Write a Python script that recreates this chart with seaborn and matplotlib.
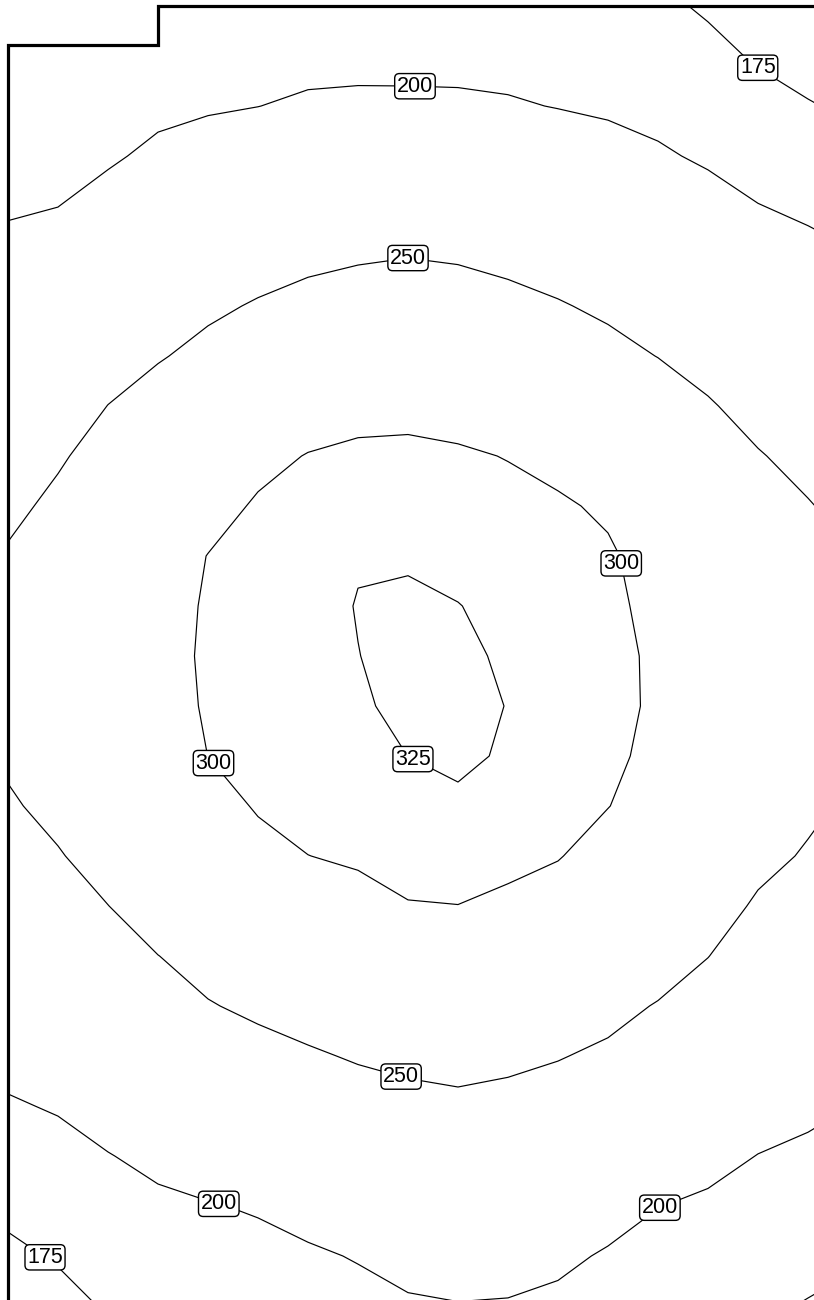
import numpy as np
import matplotlib
matplotlib.use("Agg")
import matplotlib.pyplot as plt
import seaborn as sns

sns.set_theme(style="white")
plt.rcParams['font.family'] = ['Liberation Sans', 'DejaVu Sans']

# survey grid (x positions across, y positions down)
grid_x = [8, 58, 108, 158, 208, 258, 308, 358, 408, 458, 508, 558, 608, 658, 708, 758, 808, 858]
grid_y = [6, 56, 106, 156, 206, 256, 306, 356, 406, 456, 506, 556, 606, 656,
          706, 756, 806, 856, 906, 956, 1006, 1056, 1106, 1156, 1206, 1256, 1306]

# field values, one list per grid column (top -> bottom)
col_x8 = [176, 178.3, 184.8, 191.3, 197.8, 205.3, 213.2, 221.2, 229.2, 237.1, 243, 252.8, 258, 260,
          258.8, 254.3, 246.5, 238.8, 230.7, 222.6, 214.5, 206.3, 198, 189, 179.7, 170.7, 161.7]
col_x58 = [176.5, 178.9, 185.9, 192.9, 199.8, 209.1, 218.5, 227.8, 237.1, 246.5, 256.4, 264.4, 269.2, 271,
           269.7, 265.3, 257.9, 248, 238.7, 229.4, 220.2, 210.9, 201.7, 193.3, 185, 176.8, 168.6]
col_x108 = [178, 181.3, 189.3, 197.3, 207.2, 218, 228.7, 239.5, 250.3, 261.5, 270.3, 276.7, 280.6, 282,
            280.9, 277.1, 270.6, 261.5, 249.7, 239.6, 229.5, 219.3, 209.1, 199.2, 191.8, 184.3, 176.8]
col_x158 = [180, 187.9, 195.4, 204.2, 215.1, 226.1, 237.1, 248, 261.1, 272.3, 281.1, 287.5, 291.5, 293,
            292, 288.6, 282.6, 274.2, 263.2, 249.7, 238.6, 227.5, 216.3, 205.1, 196, 188.5, 181]
col_x208 = [182.9, 190.4, 197.9, 208.8, 221, 233.2, 245.4, 257, 268.4, 279.8, 291.1, 300.5, 302.1, 302.6,
            301.9, 300.1, 290.1, 279.8, 269.4, 259.1, 248.5, 235.9, 223.2, 210.6, 198.8, 191.3, 183.8]
col_x258 = [184.8, 192.3, 199.8, 212.8, 225.9, 239, 252.2, 265.8, 279.5, 293.2, 302.7, 306.8, 309.2, 310,
            309.1, 306.5, 302.1, 292.2, 279.7, 267.2, 254.7, 241.8, 228.5, 215.3, 202, 193.6, 186.1]
col_x308 = [186.3, 193.8, 203, 216.8, 230.4, 244, 258.1, 272.7, 287.2, 301, 307.9, 313, 316.1, 317.2,
            316.2, 313, 307.6, 299.8, 286.6, 273.9, 260.3, 247.1, 234.1, 221, 207.9, 197, 189.5]
col_x358 = [187, 194.5, 203.8, 219.2, 233.3, 247.3, 262.2, 277.2, 292.2, 304.5, 313.8, 323.2, 326, 324.6,
            322, 317, 310, 303, 292.5, 279, 265.6, 252.2, 239.3, 226.6, 214, 201.3, 193.3]
col_x408 = [186.5, 194, 204, 220.3, 234.9, 249.4, 264.1, 278.8, 293.5, 304.9, 313.6, 322.4, 329, 332,
            330.5, 325.1, 316.5, 307.9, 298.9, 284.5, 270.2, 255.8, 242.9, 231, 219.2, 207.4, 197.3]
col_x458 = [186.5, 194, 203.5, 216.3, 230.7, 247.5, 262, 276.5, 291, 302.9, 310.5, 318, 325.6, 330.5,
            333, 330, 320.4, 310.1, 299.7, 285.8, 271.9, 258, 245.1, 233.6, 222, 210.4, 199]
col_x508 = [186, 193.5, 201.9, 215.7, 229.6, 243.5, 257.4, 271.3, 285.3, 299.2, 306.4, 312.6, 318.8, 321.2,
            324.3, 322, 313.8, 305.6, 295.5, 282.1, 268.6, 255.2, 243, 231.6, 220.2, 208.8, 198.3]
col_x558 = [184.3, 191.8, 199.3, 212.1, 225.4, 238.6, 251.9, 265.6, 279.4, 293.1, 303, 307.2, 311.5, 313.4,
            314.9, 313.2, 307.1, 301.2, 289.2, 276.5, 263.8, 251.2, 239.4, 227.7, 216.1, 204.4, 195.4]
col_x608 = [182, 189.5, 197, 207.6, 220.2, 232.8, 245.5, 257.7, 269.8, 281.9, 296.5, 303, 304.2, 305.5,
            306.1, 304.5, 300.5, 290.3, 279.3, 268.3, 257.3, 245.8, 233.5, 221.1, 208.8, 197.8, 190.3]
col_x658 = [179.1, 186.6, 194.1, 202.5, 214.5, 226.5, 238.5, 249.5, 263.8, 274.8, 283.6, 290.2, 294.6, 296.7,
            296.7, 294.4, 289.8, 282.9, 273.7, 262.3, 248.5, 236.8, 224.7, 212.6, 200.4, 192.8, 185.3]
col_x708 = [172.4, 180.6, 188.9, 197.2, 207.3, 218.5, 229.7, 240.8, 252.3, 263.4, 272.4, 279.1, 283.5, 285.7,
            285.7, 283.3, 278.6, 271.5, 262.2, 250.4, 239.3, 228.3, 217.2, 206.1, 196.7, 189.2, 181.7]
col_x758 = [163.6, 172.8, 182, 191.2, 200.5, 210.7, 220.9, 231.1, 241.3, 251.6, 261.3, 268.5, 273.1, 275.1,
            274.5, 271.4, 265.7, 257.4, 246.5, 237.6, 228, 218.5, 209, 199.6, 192.5, 185.5, 178.4]
col_x808 = [156.4, 166.4, 176.4, 186.3, 196.3, 205.7, 214.9, 224.1, 233.3, 242.5, 251.4, 258, 262.2, 263.9,
            263.3, 260.4, 255.1, 247.4, 238.7, 230.1, 221.4, 212.8, 204.2, 196.2, 188.7, 181.3, 173.8]
col_x858 = [149.2, 160, 170.8, 181.4, 192.1, 200.7, 208.9, 217.1, 225.3, 233.5, 241.5, 247.5, 251.3, 252.7,
            252.1, 249.4, 244.5, 237.4, 230.9, 222.6, 214.8, 207.1, 199.4, 192.8, 184.9, 177.1, 169.2]

levels = [175, 200, 250, 300, 325]

# where the reference places each contour label
label_spots = [(755, 71), (415, 85), (408, 258), (628, 562), (210, 766), (413, 759),
               (401, 1077), (219, 1203), (661, 1210), (46, 1256)]

# outline of the surveyed area
boundary_x = [8, 8, 158, 158, 814]
boundary_y = [1300, 45, 45, 6, 6]

columns = [col_x8, col_x58, col_x108, col_x158, col_x208, col_x258, col_x308, col_x358, col_x408,
           col_x458, col_x508, col_x558, col_x608, col_x658, col_x708, col_x758, col_x808, col_x858]
Z = np.array(columns).T

fig = plt.figure(figsize=(8.14, 13.0), dpi=100)
fig.patch.set_facecolor("white")
ax = fig.add_axes([0, 0, 1, 1])
ax.set_xlim(0, 814)
ax.set_ylim(1300, 0)
ax.set_axis_off()

cs = ax.contour(grid_x, grid_y, Z, levels=levels, colors="black", linewidths=0.85)
texts = ax.clabel(cs, inline=False, fmt="%d", fontsize=15.5, manual=label_spots)
for t in texts:
    t.set_rotation(0)
    t.set_zorder(5)
    t.set_bbox(dict(boxstyle="round,pad=0.1,rounding_size=0.22", facecolor="white",
                    edgecolor="black", linewidth=1.0))

ax.plot(boundary_x, boundary_y, color="black", lw=2.3, solid_joinstyle="miter",
        solid_capstyle="butt", zorder=6, clip_on=False)

fig.savefig("out.png", dpi=100, facecolor="white")
